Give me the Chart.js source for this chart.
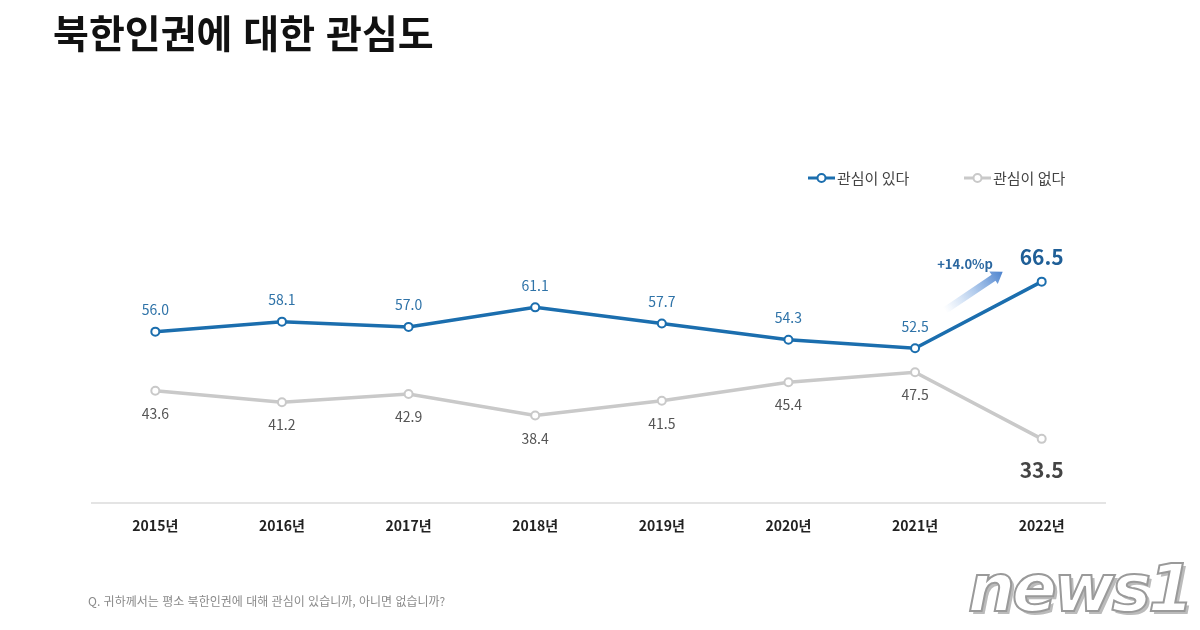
<!DOCTYPE html>
<html lang="ko">
<head>
<meta charset="utf-8">
<script src="https://cdn.jsdelivr.net/npm/chart.js@4/dist/chart.umd.min.js"></script>
<style>
  html, body { margin: 0; padding: 0; background: #fff; }
  body { width: 1200px; height: 630px; position: relative; overflow: hidden;
         font-family: "Noto Sans CJK KR", "Noto Sans", sans-serif; }
  #wrap { position: absolute; left: 0; top: 0; width: 1200px; height: 630px; }
  .title { position: absolute; left: 53px; top: 3px; font-size: 39px; font-weight: 700; color: #111; letter-spacing: 0px; }
  .note { position: absolute; left: 88px; top: 592px; font-size: 12px; color: #8a8a8a; }
  .logo { position: absolute; left: 968px; top: 550px; font-family: "DejaVu Sans", sans-serif;
          font-size: 66px; font-weight: 700; font-style: italic; color: #fff; letter-spacing: -3px;
          -webkit-text-stroke: 2px #9a9a9a; text-shadow: 3px 3px 0 #bbb; }
</style>
</head>
<body>
<div id="wrap"><canvas id="chart" width="1200" height="630"></canvas></div>
<div class="title">북한인권에 대한 관심도</div>
<div class="note">Q. 귀하께서는 평소 북한인권에 대해 관심이 있습니까, 아니면 없습니까?</div>
<div class="logo">news1</div>
<script>
// --- Data ---
const years = ['2015년', '2016년', '2017년', '2018년', '2019년', '2020년', '2021년', '2022년'];
const interested = [56.0, 58.1, 57.0, 61.1, 57.7, 54.3, 52.5, 66.5];
const notInterested = [43.6, 41.2, 42.9, 38.4, 41.5, 45.4, 47.5, 33.5];
const seriesNames = ['관심이 있다', '관심이 없다'];
const changeLabel = '+14.0%p';

const BLUE = '#1b6eae';
const GRAY = '#c9c9c9';
const FONT = '"Noto Sans CJK KR", "Noto Sans", sans-serif';

// value labels above / below points
const valueLabels = {
  id: 'valueLabels',
  afterDatasetsDraw(chart) {
    const { ctx } = chart;
    ctx.save();
    ctx.textAlign = 'center';
    ctx.textBaseline = 'middle';
    chart.data.datasets.forEach((ds, di) => {
      const meta = chart.getDatasetMeta(di);
      meta.data.forEach((pt, i) => {
        const last = i === ds.data.length - 1;
        const txt = ds.data[i].toFixed(1);
        if (di === 0) {
          ctx.fillStyle = last ? '#1f5f97' : '#2f73a8';
          ctx.font = last ? `700 21px ${FONT}` : `400 14px ${FONT}`;
          ctx.fillText(txt, pt.x, pt.y - (last ? 25 : 22));
        } else {
          ctx.fillStyle = last ? '#444' : '#555';
          ctx.font = last ? `700 21px ${FONT}` : `400 14px ${FONT}`;
          ctx.fillText(txt, pt.x, pt.y + (last ? 31 : 23));
        }
      });
    });
    ctx.restore();
  }
};

// gradient arrow with change label between the last two points
const changeArrow = {
  id: 'changeArrow',
  afterDatasetsDraw(chart) {
    const { ctx } = chart;
    const x = chart.scales.x, y = chart.scales.y;
    const n = years.length;
    const x0 = x.getPixelForValue(n - 2) + 30, y0 = y.getPixelForValue(interested[n - 2]) - 38;
    const x1 = x.getPixelForValue(n - 1) - 39, y1 = y.getPixelForValue(interested[n - 1]) - 10;
    const ang = Math.atan2(y1 - y0, x1 - x0);
    const len = Math.hypot(x1 - x0, y1 - y0);
    ctx.save();
    ctx.translate(x0, y0);
    ctx.rotate(ang);
    ctx.beginPath();
    ctx.moveTo(0, -3.5);
    ctx.lineTo(len - 11, -3.5);
    ctx.lineTo(len - 11, -7.5);
    ctx.lineTo(len, 0);
    ctx.lineTo(len - 11, 7.5);
    ctx.lineTo(len - 11, 3.5);
    ctx.lineTo(0, 3.5);
    ctx.closePath();
    const gg = ctx.createLinearGradient(0, 0, len, 0);
    gg.addColorStop(0, 'rgba(130,175,230,0)');
    gg.addColorStop(1, 'rgba(75,130,205,1)');
    ctx.fillStyle = gg;
    ctx.fill();
    ctx.restore();
    ctx.save();
    ctx.fillStyle = '#2a67a0';
    ctx.font = `700 13px ${FONT}`;
    ctx.textAlign = 'center';
    ctx.textBaseline = 'middle';
    ctx.fillText(changeLabel, x0 + 20, y1 - 8);
    ctx.restore();
  }
};

// legend in the upper right
const legendPlugin = {
  id: 'customLegend',
  afterDraw(chart) {
    const { ctx } = chart;
    const items = [
      { x: 808, color: BLUE, text: seriesNames[0] },
      { x: 964, color: GRAY, text: seriesNames[1] }
    ];
    ctx.save();
    items.forEach(it => {
      const yy = 178;
      ctx.strokeStyle = it.color;
      ctx.lineWidth = 3;
      ctx.beginPath();
      ctx.moveTo(it.x, yy);
      ctx.lineTo(it.x + 27, yy);
      ctx.stroke();
      ctx.beginPath();
      ctx.arc(it.x + 13.5, yy, 4, 0, Math.PI * 2);
      ctx.fillStyle = '#fff';
      ctx.fill();
      ctx.lineWidth = 2;
      ctx.stroke();
      ctx.fillStyle = '#444';
      ctx.font = `400 15px ${FONT}`;
      ctx.textBaseline = 'middle';
      ctx.fillText(it.text, it.x + 29, yy);
    });
    ctx.restore();
  }
};

new Chart(document.getElementById('chart'), {
  type: 'line',
  data: {
    labels: years,
    datasets: [
      {
        label: seriesNames[0],
        data: interested,
        borderColor: BLUE,
        borderWidth: 3.5,
        pointRadius: 4,
        pointBorderWidth: 2,
        pointBackgroundColor: '#fff',
        pointBorderColor: BLUE,
        tension: 0
      },
      {
        label: seriesNames[1],
        data: notInterested,
        borderColor: GRAY,
        borderWidth: 3.5,
        pointRadius: 4,
        pointBorderWidth: 2,
        pointBackgroundColor: '#fff',
        pointBorderColor: GRAY,
        tension: 0
      }
    ]
  },
  options: {
    responsive: false,
    animation: false,
    layout: { padding: { left: 92, right: 95, top: 122, bottom: 82 } },
    scales: {
      x: {
        offset: true,
        grid: { color: 'transparent', drawTicks: false },
        border: { display: true, color: '#e4e4e4', width: 2 },
        ticks: { padding: 14, color: '#222', font: { family: FONT, size: 14, weight: '700' } }
      },
      y: {
        display: false,
        min: 20,
        max: 100
      }
    },
    plugins: {
      legend: { display: false },
      tooltip: { enabled: false }
    }
  },
  plugins: [valueLabels, changeArrow, legendPlugin]
});
</script>
</body>
</html>
